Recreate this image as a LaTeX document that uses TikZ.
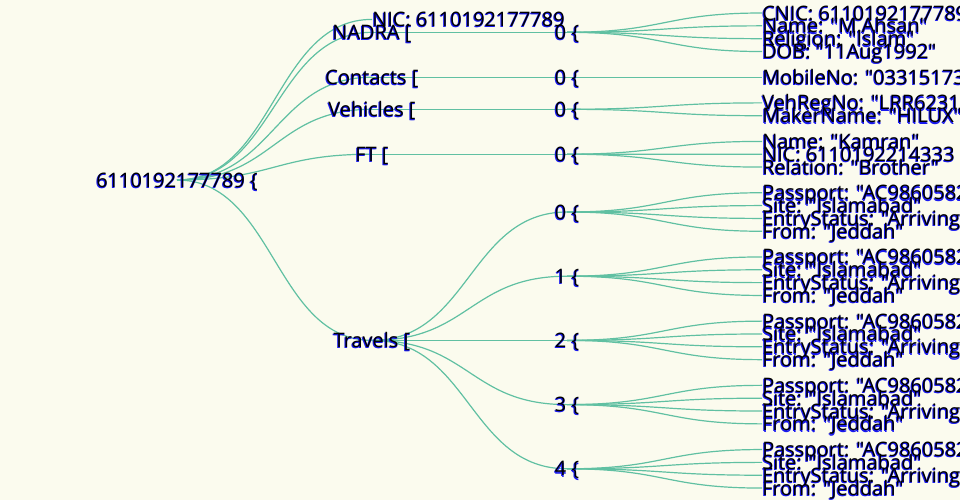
\documentclass[tikz,border=0pt]{standalone}
\usepackage{fontspec}
\setmainfont{Open Sans}[Ligatures=TeXOff]
\usepackage{xcolor}
\usetikzlibrary{backgrounds}
\definecolor{paper}{RGB}{251,251,238}
\definecolor{linkgreen}{RGB}{96,192,162}
\definecolor{glowblue}{RGB}{25,25,240}
\newcommand\at[3]{\rlap{\kern#1\raisebox{#2}{#3}}}
\newcommand\shd[1]{%
  \at{-0.75pt}{-0.75pt}{\color{glowblue}#1}\at{0pt}{-1pt}{\color{glowblue}#1}%
  \color{black}#1}
\newcommand\lnk[2]{\draw[link] (#1) .. controls +(97.5,0) and +(-97.5,0) .. (#2);}

\begin{document}
\begin{tikzpicture}[
    x=0.75pt, y=-0.75pt,
    lbl/.style={inner sep=0pt, text height=14.5pt, text depth=4pt,
      font=\fontsize{15}{15}\selectfont},
    mid/.style={lbl},
    leaf/.style={lbl, anchor=west},
    link/.style={draw=linkgreen, line width=0.9pt}
  ]
  \useasboundingbox (0,0) rectangle (960,500);
  % root and first level
  \node[mid] (root) at (177,180) {\shd{6110192177789 \{}};
  \node[leaf] (nic) at (372,19.4) {\shd{NIC: 6110192177789}};
  \node[mid] (nadra) at (372,32.3) {\shd{NADRA [}};
  \node[mid] (contacts) at (372,77.2) {\shd{Contacts [}};
  \node[mid] (vehicles) at (372,109.3) {\shd{Vehicles [}};
  \node[mid] (ft) at (372,154.2) {\shd{FT [}};
  \node[mid] (travels) at (372,340.4) {\shd{Travels [}};
  % second level
  \node[mid] (nadra0) at (567,32.3) {\shd{0 \{}};
  \node[mid] (contacts0) at (567,77.2) {\shd{0 \{}};
  \node[mid] (vehicles0) at (567,109.3) {\shd{0 \{}};
  \node[mid] (ft0) at (567,154.2) {\shd{0 \{}};
  % leaves
  \node[leaf] (cnic) at (762,13) {\shd{CNIC: 6110192177789}};
  \node[leaf] (name) at (762,25.84) {\shd{Name: "M.Ahsan"}};
  \node[leaf] (religion) at (762,38.68) {\shd{Religion: "Islam"}};
  \node[leaf] (dob) at (762,51.52) {\shd{DOB: "11Aug1992"}};
  \node[leaf] (mobile) at (762,77.2) {\shd{MobileNo: "03315173}};
  \node[leaf] (vehreg) at (762,102.88) {\shd{VehRegNo: "LRR6231"}};
  \node[leaf] (maker) at (762,115.72) {\shd{MakerName: "HILUX"}};
  \node[leaf] (kname) at (762,141.4) {\shd{Name: "Kamran"}};
  \node[leaf] (knic) at (762,154.24) {\shd{NIC: 6110192214333}};
  \node[leaf] (relation) at (762,167.08) {\shd{Relation: "Brother"}};
  \foreach \k in {0,...,4}{
    \pgfmathsetmacro\ty{212+64.2*\k}
    \node[mid] (trip\k) at (567,\ty) {\shd{\k\ \{}};
    \node[leaf] (pass\k) at (762,\ty-19.26) {\shd{Passport: "AC9860582}};
    \node[leaf] (site\k) at (762,\ty-6.42) {\shd{Site: "Islamabad"}};
    \node[leaf] (entry\k) at (762,\ty+6.42) {\shd{EntryStatus: "Arriving}};
    \node[leaf] (from\k) at (762,\ty+19.26) {\shd{From: "Jeddah"}};
  }
  \begin{scope}[on background layer]
    \fill[paper] (0,0) rectangle (960,500);
    \lnk{root.center}{nic.west}
    \foreach \n in {nadra,contacts,vehicles,ft,travels}{\lnk{root.center}{\n.center}}
    \foreach \n in {nadra,contacts,vehicles,ft}{\lnk{\n.center}{\n0.center}}
    \foreach \n in {cnic,name,religion,dob}{\lnk{nadra0.center}{\n.west}}
    \lnk{contacts0.center}{mobile.west}
    \foreach \n in {vehreg,maker}{\lnk{vehicles0.center}{\n.west}}
    \foreach \n in {kname,knic,relation}{\lnk{ft0.center}{\n.west}}
    \foreach \k in {0,...,4}{
      \lnk{travels.center}{trip\k.center}
      \foreach \n in {pass,site,entry,from}{\lnk{trip\k.center}{\n\k.west}}
    }
  \end{scope}
\end{tikzpicture}
\end{document}
